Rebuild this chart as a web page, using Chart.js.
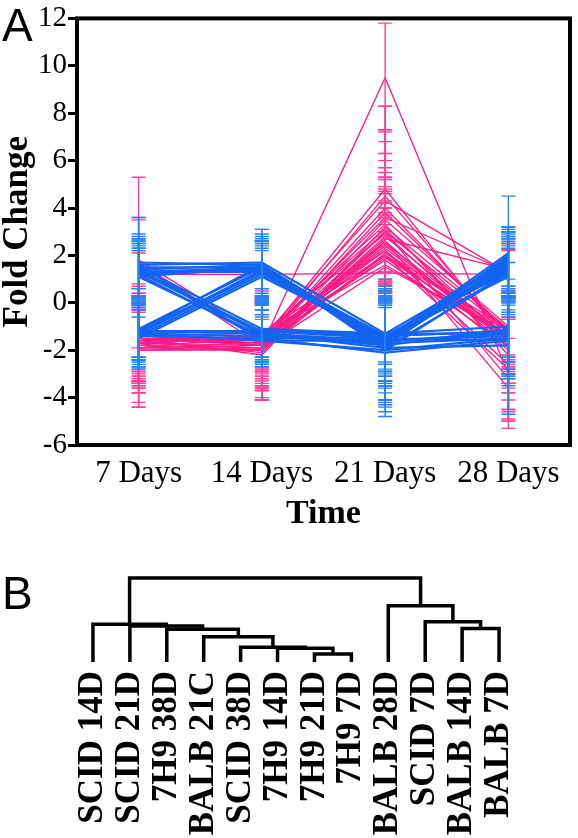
<!DOCTYPE html>
<html>
<head>
<meta charset="utf-8">
<script src="https://cdn.jsdelivr.net/npm/chart.js@4/dist/chart.umd.min.js"></script>
<style>
  body { margin: 0; background: #fff; width: 578px; height: 838px; position: relative; overflow: hidden; }
  canvas { position: absolute; left: 0; }
  #chartA { top: 0; }
  #chartB { top: 560px; }
  .panel { position: absolute; font-family: "Liberation Sans", Arial, sans-serif; font-size: 46px; line-height: 46px; color: #000; }
</style>
</head>
<body>
<canvas id="chartA" width="578" height="560"></canvas>
<canvas id="chartB" width="578" height="278"></canvas>
<div class="panel" style="left:2px; top:2px;">A</div>
<div class="panel" style="left:2px; top:570px;">B</div>
<script>
const timeLabels = ['7 Days', '14 Days', '21 Days', '28 Days'];

// blue genes: fold change at 7, 14, 21, 28 days
const blueSeries = [
    [1.3, 1.5, -1.5, 1.6],
    [1.4, 1.6, -1.7, 1.9],
    [1.2, 1.4, -1.4, 1.3],
    [1.5, 1.5, -1.8, 2.0],
    [1.3, 1.3, -1.6, 1.5],
    [1.6, 1.7, -1.3, 1.7],
    [1.1, 1.5, -1.9, 1.2],
    [1.3, 1.4, -1.5, 1.8],
    [1.7, 1.6, -1.6, 2.1],
    [1.3, -1.2, -1.4, -1.2],
    [1.1, -1.4, -1.6, -1.4],
    [1.4, -1.3, -1.8, -1.1],
    [1.2, -1.5, -1.5, -1.6],
    [1.5, -1.1, -1.3, -1.3],
    [1.6, -1.6, -2.0, -1.5],
    [-1.2, 1.3, -1.6, 1.5],
    [-1.3, 1.4, -1.4, 1.4],
    [-1.1, 1.5, -1.8, 1.6],
    [-1.4, 1.2, -1.5, 1.9],
    [-1.2, 1.6, -2.0, 1.3],
    [-1.3, 1.3, -1.7, 1.7],
    [-1.5, 1.1, -1.5, 1.1],
    [-1.2, -1.2, -1.4, -1.2],
    [-1.3, -1.4, -1.7, -1.5],
    [-1.2, -1.3, -1.9, -1.8],
    [-1.3, -1.6, -1.6, -1.3],
    [-1.2, -1.2, -1.3, -1.0],
    [-1.4, -1.5, -2.1, -1.6],
    [-1.2, -1.2, -1.5, 1.4],
    [1.3, -1.3, -1.6, 1.6]
];
const blueErrors = [
    [1.3, 1.2, 1.6, 1.2],
    [1.2, 1.0, 1.8, 1.3],
    [1.0, 1.1, 1.4, 1.1],
    [2.1, 1.3, 2.4, 2.5],
    [1.1, 1.2, 1.9, 1.4],
    [1.3, 1.4, 1.2, 1.0],
    [1.2, 0.9, 2.9, 1.5],
    [1.4, 1.2, 2.0, 1.2],
    [1.1, 1.0, 1.7, 1.1],
    [1.2, 1.1, 1.5, 1.3],
    [1.2, 1.3, 2.2, 1.6],
    [1.3, 1.2, 2.5, 1.2],
    [1.0, 1.0, 1.8, 1.9],
    [1.2, 1.2, 1.3, 1.5],
    [1.0, 1.1, 2.1, 1.7],
    [1.2, 1.3, 1.7, 1.2],
    [1.1, 1.2, 1.5, 1.1],
    [1.3, 1.1, 2.3, 1.4],
    [1.4, 1.0, 1.9, 1.2],
    [1.1, 1.3, 2.6, 1.7],
    [1.5, 1.3, 1.6, 1.3],
    [1.2, 1.2, 1.8, 1.2],
    [1.2, 1.2, 1.5, 1.3],
    [1.0, 1.1, 1.9, 3.2],
    [1.3, 1.0, 2.2, 1.2],
    [1.4, 1.0, 1.4, 1.8],
    [1.1, 1.4, 1.3, 1.3],
    [1.2, 1.2, 2.3, 1.6],
    [1.2, 1.2, 1.6, 1.4],
    [1.2, 1.3, 1.7, 1.0]
];

// pink genes
const pinkSeries = [
    [-1.5, -1.6, 2.5, -1.4],
    [-1.7, -1.8, 3.0, -1.2],
    [-1.3, -1.4, 2.0, -1.6],
    [-1.9, -2.0, 3.5, -1.0],
    [-1.6, -1.5, 1.8, -1.8],
    [-1.4, -1.7, 4.0, -1.3],
    [-2.0, -1.9, 2.8, -1.5],
    [-1.8, -1.3, 2.2, -2.0],
    [-1.5, -2.2, 3.2, -1.1],
    [-1.3, -1.6, 4.8, -1.7],
    [-1.7, -1.4, 1.6, -1.4],
    [-1.6, -2.1, 2.6, -1.9],
    [-1.9, -1.8, 3.8, -1.2],
    [-1.4, -1.5, 2.3, -1.6],
    [-1.8, -1.9, 1.5, -1.3],
    [-1.5, -1.7, 4.5, -1.5],
    [-1.2, -1.3, 2.9, -1.8],
    [-2.0, -2.0, 2.1, -1.1],
    [-1.6, -1.4, 3.3, -2.2],
    [-1.3, -1.8, 1.9, -1.4],
    [1.7, -1.6, 2.4, -1.5],
    [1.6, -1.8, 2.0, -1.2],
    [1.8, -1.4, 3.1, -1.6],
    [1.2, 1.2, 1.25, 1.2],
    [-1.5, -1.8, 9.5, -3.0],
    [-1.5, -1.6, 3.6, 1.3],
    [-1.7, -1.9, 2.7, 1.4],
    [-1.4, -1.5, 4.3, 1.25],
    [-1.6, -1.7, 2.6, -3.6],
    [-1.8, -2.0, 3.0, -3.2],
    [-1.5, -1.6, 2.2, -2.6],
    [-1.9, -1.4, 2.0, -2.8]
];
const pinkErrors = [
    [1.8, 1.6, 1.8, 1.5],
    [1.6, 1.9, 2.2, 1.6],
    [2.0, 1.5, 1.6, 1.8],
    [1.5, 2.1, 2.5, 1.4],
    [1.9, 1.4, 1.5, 2.0],
    [1.7, 1.8, 3.3, 1.7],
    [2.4, 2.2, 2.0, 1.6],
    [1.6, 1.5, 1.8, 2.5],
    [1.8, 1.9, 2.3, 1.5],
    [1.6, 1.6, 3.5, 1.9],
    [2.1, 1.5, 1.4, 1.6],
    [1.7, 2.0, 2.1, 2.2],
    [1.9, 1.7, 3.0, 1.5],
    [1.5, 1.6, 1.9, 1.8],
    [2.0, 1.8, 1.3, 1.5],
    [1.6, 1.9, 3.8, 1.7],
    [1.5, 1.5, 2.0, 2.0],
    [2.2, 2.0, 1.7, 1.4],
    [1.8, 1.6, 2.4, 2.4],
    [1.6, 1.8, 1.6, 1.6],
    [3.6, 1.7, 1.8, 1.7],
    [1.9, 1.8, 1.6, 1.5],
    [1.8, 1.5, 2.2, 1.8],
    [0.9, 1.9, 1.1, 1.0],
    [2.1, 2.3, 2.3, 2.3],
    [1.7, 1.6, 2.7, 1.2],
    [1.9, 1.8, 2.0, 1.1],
    [1.6, 1.6, 3.0, 1.0],
    [1.8, 1.7, 2.0, 1.4],
    [2.6, 2.1, 2.3, 1.7],
    [1.7, 1.9, 1.8, 1.9],
    [1.6, 1.5, 1.7, 2.2]
];

// dendrogram (panel B)
const leafLabels = ['SCID 14D', 'SCID 21D', '7H9 38D', 'BALB 21C', 'SCID 38D', '7H9 14D',
    '7H9 21D', '7H9 7D', 'BALB 28D', 'SCID 7D', 'BALB 14D', 'BALB 7D'];
// [left node, right node, height]; new nodes are numbered from 12 on
const merges = [
    [6, 7, 0.095],
    [5, 12, 0.165],
    [4, 13, 0.175],
    [3, 14, 0.30],
    [2, 15, 0.39],
    [1, 16, 0.43],
    [0, 17, 0.45],
    [10, 11, 0.40],
    [9, 19, 0.48],
    [8, 20, 0.67],
    [18, 21, 1.0]
];

const serif = '"Liberation Serif", "Times New Roman", serif';
const PINK = '#ff1a84';
const BLUE = '#1464f2';

const errorBars = {
    id: 'errorBars',
    afterDatasetDraw(chart, args) {
        const ds = chart.data.datasets[args.index];
        if (!ds.errors) return;
        const ctx = chart.ctx;
        const yScale = chart.scales.y;
        ctx.save();
        ctx.strokeStyle = ds.errorColor;
        ctx.lineWidth = 1.4;
        args.meta.data.forEach((pt, i) => {
            const v = ds.data[i], e = ds.errors[i];
            const top = yScale.getPixelForValue(v + e);
            const bot = yScale.getPixelForValue(v - e);
            ctx.beginPath();
            ctx.moveTo(pt.x, top); ctx.lineTo(pt.x, bot);
            ctx.moveTo(pt.x - 7, top); ctx.lineTo(pt.x + 7, top);
            ctx.moveTo(pt.x - 7, bot); ctx.lineTo(pt.x + 7, bot);
            ctx.stroke();
        });
        ctx.restore();
    }
};

const frame = {
    id: 'frame',
    afterDraw(chart) {
        const a = chart.chartArea;
        const ctx = chart.ctx;
        ctx.save();
        ctx.strokeStyle = '#000';
        ctx.lineWidth = 4;
        ctx.strokeRect(a.left, a.top, a.right - a.left, a.bottom - a.top);
        ctx.restore();
    }
};

function makeSet(values, errors, color, errColor, width) {
    return {
        data: values,
        errors: errors,
        errorColor: errColor,
        borderColor: color,
        borderWidth: width,
        pointRadius: 0,
        tension: 0,
        fill: false
    };
}

// blue first so it sits on top of the pink lines
const datasetsA = [];
blueSeries.forEach((s, i) => datasetsA.push(makeSet(s, blueErrors[i], BLUE, '#2584f4', 2.2)));
pinkSeries.forEach((s, i) => datasetsA.push(makeSet(s, pinkErrors[i], PINK, '#ff3f98', 1.3)));

new Chart(document.getElementById('chartA'), {
    type: 'line',
    data: { labels: timeLabels, datasets: datasetsA },
    options: {
        responsive: false,
        animation: false,
        layout: { padding: { left: 0, right: 8, top: 18, bottom: 29 } },
        plugins: { legend: { display: false }, tooltip: { enabled: false } },
        scales: {
            x: {
                offset: true,
                grid: { display: false },
                border: { display: false },
                ticks: { color: '#000', font: { family: serif, size: 31 }, padding: 2 },
                title: { display: true, text: 'Time', color: '#000', padding: 0,
                    font: { family: serif, size: 34, weight: 'bold', lineHeight: 1 } },
                afterFit: s => { s.height = 86; }
            },
            y: {
                min: -6,
                max: 12,
                grid: { drawOnChartArea: false, tickLength: 9, tickWidth: 3, tickColor: '#000' },
                border: { display: false },
                ticks: { stepSize: 2, color: '#000', font: { family: serif, size: 29 }, padding: 1 },
                title: { display: true, text: 'Fold Change', color: '#000', padding: 0,
                    font: { family: serif, size: 35, weight: 'bold', lineHeight: 1 } },
                afterFit: s => { s.width = 77; }
            }
        }
    },
    plugins: [errorBars, frame]
});

// build the dendrogram links from the merge table
const nodeX = leafLabels.map((_, i) => i);
const nodeH = leafLabels.map(() => 0);
const datasetsB = merges.map(([a, b, h]) => {
    nodeX.push((nodeX[a] + nodeX[b]) / 2);
    nodeH.push(h);
    return {
        data: [
            { x: nodeX[a], y: nodeH[a] },
            { x: nodeX[a], y: h },
            { x: nodeX[b], y: h },
            { x: nodeX[b], y: nodeH[b] }
        ],
        borderColor: '#000',
        borderWidth: 3.5,
        borderJoinStyle: 'miter',
        pointRadius: 0,
        tension: 0,
        clip: false
    };
});

new Chart(document.getElementById('chartB'), {
    type: 'line',
    data: { datasets: datasetsB },
    options: {
        responsive: false,
        animation: false,
        layout: { padding: { left: 74.5, right: 60.5, top: 18, bottom: 0 } },
        plugins: { legend: { display: false }, tooltip: { enabled: false } },
        scales: {
            x: {
                type: 'linear',
                min: -0.5,
                max: 11.5,
                grid: { display: false },
                border: { display: false },
                afterBuildTicks: s => { s.ticks = leafLabels.map((_, i) => ({ value: i })); },
                ticks: {
                    autoSkip: false,
                    minRotation: 90,
                    maxRotation: 90,
                    padding: 1,
                    color: '#000',
                    font: { family: serif, size: 35, weight: 'bold' },
                    callback: v => leafLabels[v] || ''
                },
                afterFit: s => { s.height = 176; }
            },
            y: { display: false, min: 0, max: 1 }
        }
    }
});
</script>
</body>
</html>
